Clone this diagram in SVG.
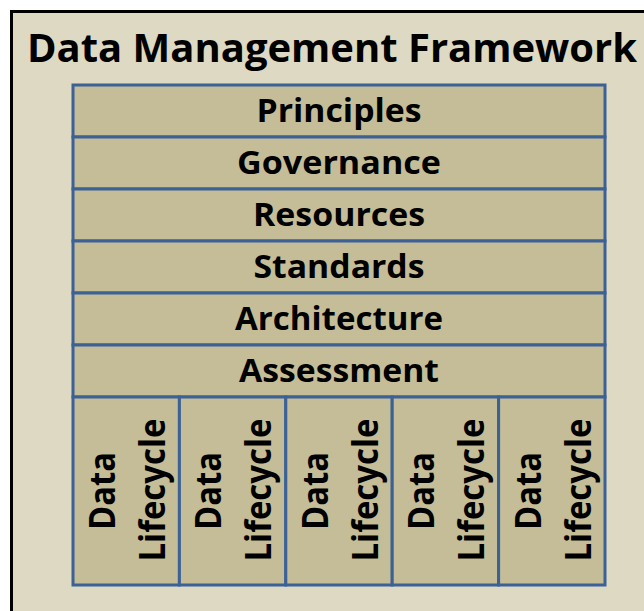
<svg xmlns="http://www.w3.org/2000/svg" width="644" height="611" viewBox="0 0 644 611">
<style>
.cell{fill:#C4BD97;stroke:#3B6196;stroke-width:3}
.t{font-family:"Open Sans","Liberation Sans",sans-serif;font-weight:700;fill:#000}
.row{font-size:33px;text-anchor:middle}
.v{font-size:36px;text-anchor:middle}
</style>
<rect x="0" y="0" width="644" height="611" fill="#ffffff"/>
<rect id="frame" x="11.5" y="11.5" width="640" height="610" fill="#DDD9C3" stroke="#000" stroke-width="3"/>
<text id="title" class="t" x="27" y="62" font-size="39" textLength="610" lengthAdjust="spacingAndGlyphs">Data Management Framework</text>
<g id="principles"><rect class="cell" x="73" y="85" width="532" height="52"/><text class="t row" x="339" y="122" textLength="165" lengthAdjust="spacingAndGlyphs">Principles</text></g>
<g id="governance"><rect class="cell" x="73" y="137" width="532" height="52"/><text class="t row" x="339" y="174" textLength="204" lengthAdjust="spacingAndGlyphs">Governance</text></g>
<g id="resources"><rect class="cell" x="73" y="189" width="532" height="52"/><text class="t row" x="339" y="226" textLength="172" lengthAdjust="spacingAndGlyphs">Resources</text></g>
<g id="standards"><rect class="cell" x="73" y="241" width="532" height="52"/><text class="t row" x="339" y="278" textLength="171" lengthAdjust="spacingAndGlyphs">Standards</text></g>
<g id="architecture"><rect class="cell" x="73" y="293" width="532" height="52"/><text class="t row" x="339" y="330" textLength="208" lengthAdjust="spacingAndGlyphs">Architecture</text></g>
<g id="assessment"><rect class="cell" x="73" y="345" width="532" height="52"/><text class="t row" x="339" y="382" textLength="200" lengthAdjust="spacingAndGlyphs">Assessment</text></g>
<g id="lifecycle1"><rect class="cell" x="73" y="397" width="106.4" height="188"/>
<text class="t v" transform="translate(115,491) rotate(-90)" textLength="78" lengthAdjust="spacingAndGlyphs">Data</text>
<text class="t v" transform="translate(165,490) rotate(-90)" textLength="143" lengthAdjust="spacingAndGlyphs">Lifecycle</text></g>
<g id="lifecycle2"><rect class="cell" x="179.4" y="397" width="106.4" height="188"/>
<text class="t v" transform="translate(221.4,491) rotate(-90)" textLength="78" lengthAdjust="spacingAndGlyphs">Data</text>
<text class="t v" transform="translate(271.4,490) rotate(-90)" textLength="143" lengthAdjust="spacingAndGlyphs">Lifecycle</text></g>
<g id="lifecycle3"><rect class="cell" x="285.8" y="397" width="106.4" height="188"/>
<text class="t v" transform="translate(327.8,491) rotate(-90)" textLength="78" lengthAdjust="spacingAndGlyphs">Data</text>
<text class="t v" transform="translate(377.8,490) rotate(-90)" textLength="143" lengthAdjust="spacingAndGlyphs">Lifecycle</text></g>
<g id="lifecycle4"><rect class="cell" x="392.2" y="397" width="106.4" height="188"/>
<text class="t v" transform="translate(434.2,491) rotate(-90)" textLength="78" lengthAdjust="spacingAndGlyphs">Data</text>
<text class="t v" transform="translate(484.2,490) rotate(-90)" textLength="143" lengthAdjust="spacingAndGlyphs">Lifecycle</text></g>
<g id="lifecycle5"><rect class="cell" x="498.6" y="397" width="106.4" height="188"/>
<text class="t v" transform="translate(541,491) rotate(-90)" textLength="78" lengthAdjust="spacingAndGlyphs">Data</text>
<text class="t v" transform="translate(591,490) rotate(-90)" textLength="143" lengthAdjust="spacingAndGlyphs">Lifecycle</text></g>
<g id="connectors"/>
</svg>
